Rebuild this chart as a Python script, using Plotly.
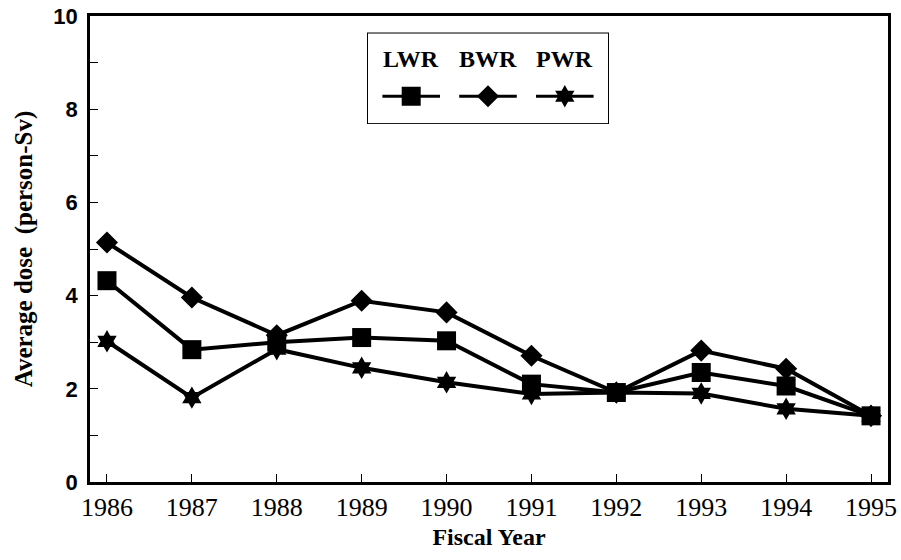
import plotly.graph_objects as go

years = [1986, 1987, 1988, 1989, 1990, 1991, 1992, 1993, 1994, 1995]
lwr = [4.32, 2.84, 3.00, 3.10, 3.03, 2.10, 1.92, 2.35, 2.06, 1.42]
bwr = [5.14, 3.96, 3.15, 3.89, 3.64, 2.71, 1.92, 2.82, 2.43, 1.42]
pwr = [3.02, 1.81, 2.85, 2.45, 2.14, 1.89, 1.92, 1.90, 1.57, 1.42]
series_names = ["LWR", "BWR", "PWR"]
symbols = ["square", "diamond", "hexagram"]
sizes = [19, 17, 17]

fig = go.Figure()
for name, vals, sym, sz in zip(series_names, [lwr, bwr, pwr], symbols, sizes):
    fig.add_trace(go.Scatter(
        x=years, y=vals, name=name, mode="lines+markers",
        line=dict(color="black", width=4),
        marker=dict(symbol=sym, size=sz, color="black"),
        showlegend=False, cliponaxis=False))

# custom legend (box, labels on top, line samples below)
leg_x = [0.18, 0.5, 0.82]
for i, (name, sym, sz) in enumerate(zip(series_names, symbols, sizes)):
    fig.add_trace(go.Scatter(
        x=[leg_x[i] - 0.12, leg_x[i], leg_x[i] + 0.12], y=[0.3, 0.3, 0.3],
        mode="lines", line=dict(color="black", width=3),
        xaxis="x2", yaxis="y2", showlegend=False, hoverinfo="skip"))
    fig.add_trace(go.Scatter(
        x=[leg_x[i]], y=[0.3], mode="markers",
        marker=dict(symbol=sym, size=sz, color="black"),
        xaxis="x2", yaxis="y2", showlegend=False, hoverinfo="skip"))
    fig.add_annotation(x=leg_x[i], y=0.72, xref="x2", yref="y2", text="<b>" + name + "</b>",
                       showarrow=False, font=dict(family="Liberation Serif", size=24, color="black"))

fig.update_layout(
    width=901, height=560,
    margin=dict(l=90, r=13, t=16, b=78),
    paper_bgcolor="white", plot_bgcolor="white",
    font=dict(family="Liberation Serif", color="black"),
    xaxis=dict(range=[1985.8, 1995.2], tickvals=years, ticks="inside", ticklen=8,
               tickwidth=1, tickcolor="black", showgrid=False, zeroline=False,
               showline=True, linecolor="black", linewidth=2.5, mirror=True, automargin=False,
               tickfont=dict(family="Liberation Serif", size=26),
               title=dict(text="<b>Fiscal Year</b>", font=dict(family="Liberation Serif", size=24), standoff=8)),
    yaxis=dict(range=[0, 10], dtick=2, ticks="inside", ticklen=8, tickwidth=1, tickcolor="black",
               minor=dict(dtick=1, ticks="inside", ticklen=8, tickwidth=1, tickcolor="black"),
               showgrid=False, zeroline=False, showline=True, linecolor="black", linewidth=2.5,
               mirror=True, automargin=False, ticklabelstandoff=5,
               tickfont=dict(family="Liberation Sans", size=22, weight="bold"),
               title=dict(text="<b>Average dose  (person-Sv)</b>", font=dict(family="Liberation Serif", size=25), standoff=14)),
    xaxis2=dict(domain=[(368 - 90) / 798, (608 - 90) / 798], range=[0, 1], anchor="y2",
                visible=False, fixedrange=True),
    yaxis2=dict(domain=[(481.5 - 123) / 465.5, (481.5 - 33.5) / 465.5], range=[0, 1], anchor="x2",
                visible=False, fixedrange=True),
)
fig.add_shape(type="rect", xref="x2 domain", yref="y2 domain", x0=0, x1=1, y0=0, y1=1,
              line=dict(color="black", width=2), layer="below")

fig.write_html("out.html", config={"displayModeBar": False},
               post_script="document.body.style.margin='0px';")
